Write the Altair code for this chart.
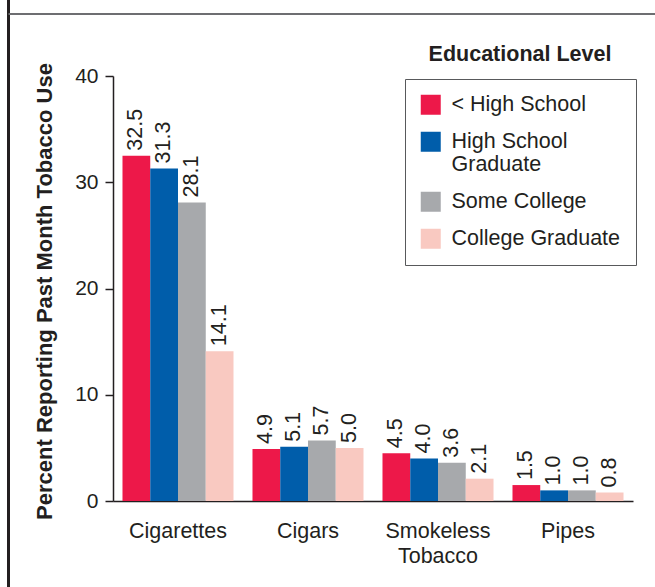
import altair as alt
import pandas as pd

categories = ["Cigarettes", "Cigars", "Smokeless Tobacco", "Pipes"]
levels = ["< High School", "High School Graduate", "Some College", "College Graduate"]
lt_high_school = [32.5, 4.9, 4.5, 1.5]
high_school_grad = [31.3, 5.1, 4.0, 1.0]
some_college = [28.1, 5.7, 3.6, 1.0]
college_grad = [14.1, 5.0, 2.1, 0.8]
colors = ["#ED1849", "#005DAA", "#A7A9AC", "#F9C9C1"]
y_ticks = [0, 10, 20, 30, 40]
y_title = "Percent Reporting Past Month Tobacco Use"
legend_title = "Educational Level"

series = [lt_high_school, high_school_grad, some_college, college_grad]
rows = []
for lvl, vals in zip(levels, series):
    for cat, v in zip(categories, vals):
        rows.append({"category": cat, "level": lvl, "value": v})
df = pd.DataFrame(rows)

FONT = "Liberation Sans"
INK = "#231F20"

x_enc = alt.X(
    "category:N",
    sort=categories,
    scale=alt.Scale(paddingInner=0.146, paddingOuter=0.073),
    axis=alt.Axis(
        title=None,
        labelAngle=0,
        ticks=False,
        tickSize=0,
        labelPadding=19,
        labelFontSize=21.5,
        labelFont=FONT,
        labelColor=INK,
        labelLineHeight=25,
        domainColor=INK,
        domainWidth=1.5,
        labelExpr="datum.label == 'Smokeless Tobacco' ? ['Smokeless', 'Tobacco'] : datum.label",
    ),
)
xoff_enc = alt.XOffset("level:N", sort=levels, scale=alt.Scale(paddingInner=0, paddingOuter=0))
y_enc = alt.Y(
    "value:Q",
    scale=alt.Scale(domain=[0, 40], nice=False),
    axis=alt.Axis(
        title=y_title,
        values=y_ticks,
        grid=False,
        tickSize=8,
        tickColor=INK,
        tickWidth=1.5,
        domainColor=INK,
        domainWidth=1.5,
        labelPadding=7,
        labelFontSize=21,
        labelFont=FONT,
        labelColor=INK,
        titleFont=FONT,
        titleFontSize=22,
        titleFontWeight="bold",
        titleColor=INK,
        titleAngle=270,
        titleAlign="center",
        titleBaseline="middle",
        titleX=-69,
        titleY=215,
    ),
)

base = alt.Chart(df)

bars = base.mark_bar().encode(
    x=x_enc,
    xOffset=xoff_enc,
    y=y_enc,
    color=alt.Color(
        "level:N",
        sort=levels,
        scale=alt.Scale(domain=levels, range=colors),
        legend=alt.Legend(
            title=None,
            orient="none",
            legendX=292,
            legendY=3,
            padding=15,
            strokeColor="#58595B",
            fillColor="white",
            symbolType="square",
            symbolSize=400,
            symbolStrokeWidth=0,
            symbolOpacity=1,
            labelFont=FONT,
            labelFontSize=21.5,
            labelColor=INK,
            labelOffset=10,
            labelLimit=400,
            rowPadding=14,
            labelExpr="datum.label == 'High School Graduate' ? ['High School', 'Graduate'] : datum.label",
        ),
    ),
)

labels = base.mark_text(
    angle=270,
    align="left",
    baseline="middle",
    dx=5,
    fontSize=21.5,
    font=FONT,
    color=INK,
).encode(
    x=alt.X("category:N", sort=categories),
    xOffset=alt.XOffset("level:N", sort=levels),
    y=alt.Y("value:Q"),
    text=alt.Text("value:Q", format=".1f"),
)

title_df = pd.DataFrame({"t": [legend_title]})
legend_title_mark = alt.Chart(title_df).mark_text(
    fontSize=21.5,
    fontWeight="bold",
    font=FONT,
    color=INK,
    align="center",
    baseline="middle",
).encode(x=alt.value(407), y=alt.value(-21), text="t:N")

one = pd.DataFrame({"k": [0]})
left_line = alt.Chart(one).mark_rule(color=INK, strokeWidth=3).encode(
    x=alt.value(-104.5), y=alt.value(-76), y2=alt.value(511)
)
top_line = alt.Chart(one).mark_rule(color="#6D6E71", strokeWidth=2).encode(
    x=alt.value(-104.5), x2=alt.value(542), y=alt.value(-62)
)

chart = (
    alt.layer(bars, labels, legend_title_mark, left_line, top_line)
    .properties(
        width=520,
        height=425,
        autosize=alt.AutoSizeParams(type="none"),
        padding={"left": 113, "top": 76, "right": 22, "bottom": 86},
        background="white",
    )
    .configure_view(stroke=None)
)

chart.save("out.html", embed_options={"renderer": "svg", "actions": False})
